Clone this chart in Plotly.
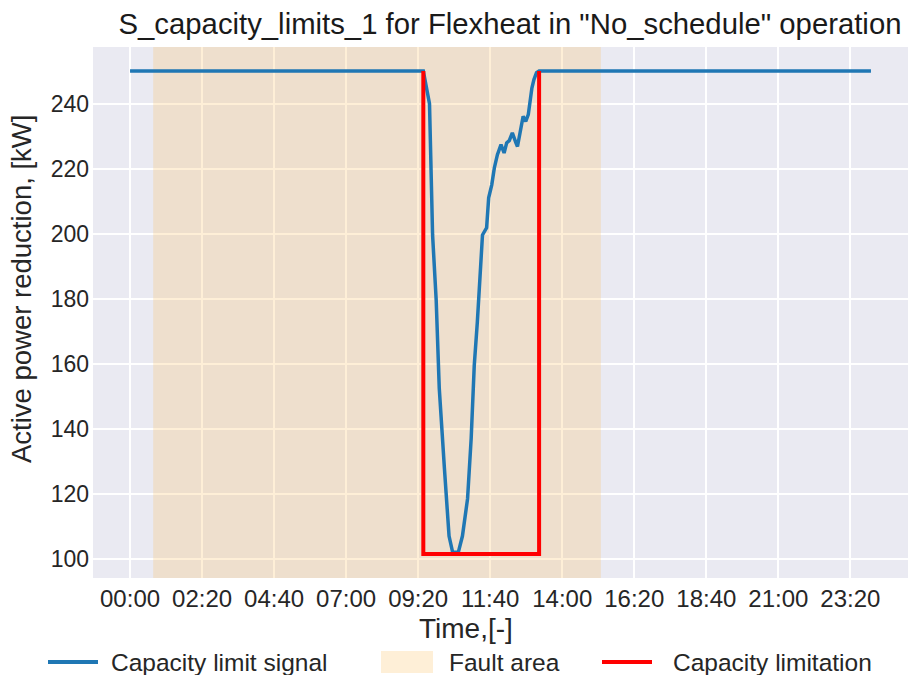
import plotly.graph_objects as go

# ---------------- data ----------------
signal_times = ["00:00", "09:30", "09:42", "09:48", "09:55", "10:01", "10:11", "10:20",
                "10:27", "10:38", "10:46", "10:56", "11:03", "11:09", "11:15", "11:25",
                "11:33", "11:37", "11:43", "11:48", "11:54", "12:01", "12:07", "12:12",
                "12:17", "12:23", "12:30", "12:33", "12:44", "12:49", "12:54", "13:01",
                "13:05", "13:10", "13:15", "24:00"]
signal_values = [250, 250, 240, 199.6, 179.6, 152.4, 127.8, 107,
                 102, 102, 107, 118.5, 137, 159.5, 172.9, 199.6,
                 201.8, 211, 215, 220.2, 224.3, 227.4, 224.8, 227.9,
                 228.6, 231, 227.9, 226.8, 236.1, 234.5, 236.6, 244.8,
                 247.4, 249.5, 250, 250]

limit_times = ["09:30", "09:30", "13:15", "13:15"]
limit_values = [250, 101.5, 101.5, 250]

fault_start = "00:45"
fault_end = "15:15"

tick_labels = ["00:00", "02:20", "04:40", "07:00", "09:20", "11:40", "14:00",
               "16:20", "18:40", "21:00", "23:20"]
y_ticks = [100, 120, 140, 160, 180, 200, 220, 240]

legend_names = ["Capacity limit signal", "Fault area", "Capacity limitation"]
x_title = "Time,[-]"
y_title = "Active power reduction, [kW]"
chart_title = 'S_capacity_limits_1 for Flexheat in "No_schedule" operation'


def minutes(s):
    h, m = s.split(":")
    return int(h) * 60 + int(m)


sig_x = [minutes(t) for t in signal_times]
lim_x = [minutes(t) for t in limit_times]
tick_x = [minutes(t) for t in tick_labels]
f0, f1 = minutes(fault_start), minutes(fault_end)

FONT = "Liberation Sans, Arial, sans-serif"
BLUE = "#1f77b4"
RED = "#ff0000"
FAULT = "rgba(250,190,95,0.25)"
TXT = "#262626"

W, H = 908, 675
ML, MR, MT, MB = 93, 0, 47, 97
PW, PH = W - ML - MR, H - MT - MB


def px(xp):
    return (xp - ML) / PW


def py(yp):
    return (H - MB - yp) / PH


fig = go.Figure()

fig.add_trace(go.Scatter(
    x=[f0, f1, f1, f0, f0], y=[0, 0, 400, 400, 0],
    fill="toself", fillcolor=FAULT,
    line=dict(width=0), mode="lines", name=legend_names[1],
    showlegend=False, hoverinfo="skip"))

fig.add_trace(go.Scatter(
    x=sig_x, y=signal_values, mode="lines", name=legend_names[0],
    line=dict(color=BLUE, width=3.5), showlegend=False))

fig.add_trace(go.Scatter(
    x=lim_x, y=limit_values, mode="lines", name=legend_names[2],
    line=dict(color=RED, width=4), showlegend=False))

# ---- manual legend below the axes ----
LEG_Y = 662
shapes = [
    dict(type="line", xref="paper", yref="paper", x0=px(48), x1=px(98),
         y0=py(LEG_Y), y1=py(LEG_Y), line=dict(color=BLUE, width=4)),
    dict(type="rect", xref="paper", yref="paper", x0=px(381), x1=px(433),
         y0=py(LEG_Y - 11), y1=py(LEG_Y + 11), line=dict(width=0), fillcolor=FAULT),
    dict(type="line", xref="paper", yref="paper", x0=px(602), x1=px(652),
         y0=py(LEG_Y), y1=py(LEG_Y), line=dict(color=RED, width=4)),
]
annotations = [
    dict(text=legend_names[0], x=px(109), y=py(LEG_Y), xanchor="left",
         font=dict(size=24.5, color=TXT)),
    dict(text=legend_names[1], x=px(447), y=py(LEG_Y), xanchor="left",
         font=dict(size=24.5, color=TXT)),
    dict(text=legend_names[2], x=px(671), y=py(LEG_Y), xanchor="left",
         font=dict(size=24.5, color=TXT)),
    # axis titles
    dict(text=x_title, x=px(466), y=py(628), xanchor="center",
         font=dict(size=28, color=TXT)),
    dict(text=y_title, x=px(21), y=py(289), xanchor="center", textangle=-90,
         font=dict(size=27.5, color=TXT)),
]
for a in annotations:
    a.update(xref="paper", yref="paper", yanchor="middle", showarrow=False)

fig.update_layout(
    width=W, height=H,
    paper_bgcolor="white", plot_bgcolor="#EAEAF2",
    margin=dict(l=ML, r=MR, t=MT, b=MB, autoexpand=False),
    font=dict(family=FONT, size=23, color=TXT),
    title=dict(text=chart_title,
               font=dict(size=29.3, color="#1a1a1a"), x=510 / W, xanchor="center",
               xref="container", y=1 - 24 / H, yanchor="middle", yref="container",
               automargin=False),
    showlegend=False,
    shapes=shapes,
    annotations=annotations,
)

fig.update_xaxes(range=[-72, 1512], tickvals=tick_x, ticktext=tick_labels,
                 showgrid=True, gridcolor="white", gridwidth=2, zeroline=False,
                 showline=False, ticks="", tickfont=dict(size=24), automargin=False,
                 ticklabelstandoff=4)
fig.update_yaxes(range=[94.1, 257.4], tickvals=y_ticks,
                 showgrid=True, gridcolor="white", gridwidth=2, zeroline=False,
                 showline=False, ticks="", tickfont=dict(size=23), automargin=False,
                 ticklabelstandoff=3)

fig.write_html("out.html", config={"displayModeBar": False},
               post_script="document.body.style.margin='0';document.body.style.padding='0';")
